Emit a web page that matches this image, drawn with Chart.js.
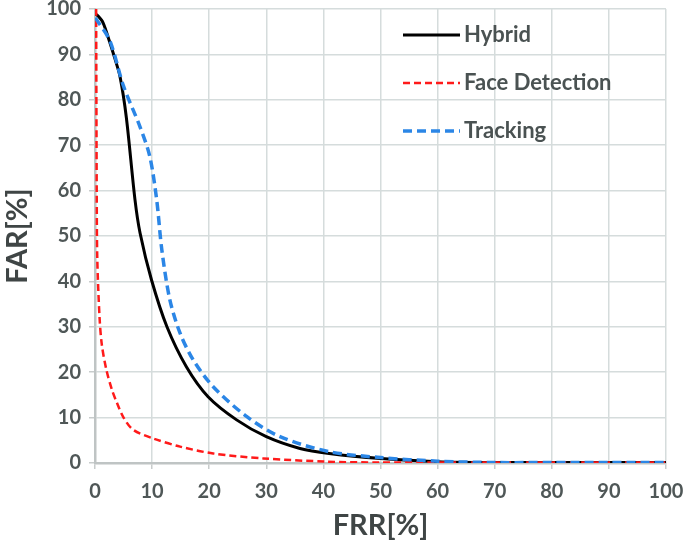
<!DOCTYPE html>
<html>
<head>
<meta charset="utf-8">
<script src="https://cdn.jsdelivr.net/npm/chart.js@4"></script>
<style>
  html, body { margin: 0; padding: 0; background: #fff; }
  #wrap { width: 685px; height: 547px; }
</style>
</head>
<body>
<div id="wrap"><canvas id="rocChart" width="685" height="547"></canvas></div>
<script>
// Curvas FAR vs FRR
const hybridFrr = [0, 0.5, 1.4, 2.5, 3.5, 4.4, 5.5, 7, 7.9, 9.9, 12.6, 16, 19.8, 24.8, 30, 35.9, 41, 50, 60, 70, 80, 90, 100];
const hybridFar = [99, 98.5, 97, 93, 89, 85, 76, 58, 50.6, 40.3, 30, 21.2, 14.6, 9.5, 5.8, 3.2, 2.1, 1.0, 0.3, 0.1, 0.1, 0.1, 0.1];

const faceFrr = [0.2, 0.3, 0.4, 0.8, 1.2, 2, 3, 3.8, 5, 6.7, 10.2, 14.9, 20.7, 29.5, 40.6, 50, 60, 70, 80, 90, 100];
const faceFar = [100, 60, 45, 32, 26, 20.5, 16, 13.4, 10, 7.3, 5.4, 3.6, 2.1, 1.0, 0.3, 0.1, 0.1, 0.1, 0.1, 0.1, 0.1];

const trackFrr = [0, 0.3, 2.6, 5, 7.9, 9.6, 10.8, 11.7, 13.1, 14.9, 17.2, 20.7, 26.6, 32.4, 41, 50, 60, 70, 80, 90, 100];
const trackFar = [98, 97.6, 93, 83, 74, 67.5, 58, 47, 36, 28.6, 22.7, 16.8, 10.2, 5.8, 2.5, 1.2, 0.4, 0.1, 0.1, 0.1, 0.1];

const seriesNames = ['Hybrid', 'Face Detection', 'Tracking'];
const xTitle = 'FRR[%]';
const yTitle = 'FAR[%]';

const fontFamily = "Lato, 'Open Sans', sans-serif";

function toPoints(xs, ys) {
    return xs.map((x, i) => ({ x: x, y: ys[i] }));
}

// Leyenda dibujada dentro del área del gráfico
const insideLegend = {
    id: 'insideLegend',
    afterDraw(chart) {
        const ctx = chart.ctx;
        const items = chart.data.datasets;
        const rows = [35, 83, 131];
        ctx.save();
        items.forEach((ds, i) => {
            const y = rows[i];
            ctx.beginPath();
            ctx.strokeStyle = ds.borderColor;
            ctx.lineWidth = ds.borderWidth;
            ctx.setLineDash(ds.borderDash || []);
            ctx.moveTo(403, y);
            ctx.lineTo(460, y);
            ctx.stroke();
            ctx.setLineDash([]);
            ctx.fillStyle = '#4a5252';
            ctx.font = 'bold 22px ' + fontFamily;
            ctx.textBaseline = 'middle';
            ctx.fillText(ds.label, 464, y);
        });
        ctx.restore();
    }
};

const canvas = document.getElementById('rocChart');
new Chart(canvas.getContext('2d'), {
    type: 'scatter',
    data: {
        datasets: [
            {
                label: seriesNames[0],
                data: toPoints(hybridFrr, hybridFar),
                borderColor: '#000000',
                borderWidth: 3,
                showLine: true,
                pointRadius: 0,
                tension: 0.3,
                order: 2
            },
            {
                label: seriesNames[1],
                data: toPoints(faceFrr, faceFar),
                borderColor: '#ff1a1a',
                borderWidth: 2.5,
                borderDash: [7, 4],
                showLine: true,
                pointRadius: 0,
                tension: 0.3,
                order: 1
            },
            {
                label: seriesNames[2],
                data: toPoints(trackFrr, trackFar),
                borderColor: '#2b86e6',
                borderWidth: 3.5,
                borderDash: [9, 5],
                showLine: true,
                pointRadius: 0,
                tension: 0.3,
                order: 0
            }
        ]
    },
    options: {
        responsive: false,
        animation: false,
        layout: { padding: { top: 9, right: 19, left: 0, bottom: 0 } },
        plugins: {
            legend: { display: false },
            tooltip: { enabled: false }
        },
        scales: {
            x: {
                type: 'linear',
                min: 0,
                max: 100,
                ticks: {
                    stepSize: 10,
                    color: '#4f5757',
                    padding: 11,
                    maxRotation: 0,
                    font: { family: fontFamily, size: 20, weight: 'bold' }
                },
                grid: { color: '#d5dcdc', lineWidth: 1.5, tickLength: 6, tickColor: '#c8cccc' },
                border: { color: '#bfc4c4', width: 2.5 },
                title: {
                    display: true,
                    text: xTitle,
                    color: '#3f4545',
                    padding: { top: 7 },
                    font: { family: fontFamily, size: 29, weight: 'bold' }
                },
                afterFit(scale) {
                    scale.height = 84;
                    scale.paddingLeft = 0;
                    scale.paddingRight = 0;
                }
            },
            y: {
                type: 'linear',
                min: 0,
                max: 100,
                ticks: {
                    stepSize: 10,
                    color: '#4f5757',
                    padding: 8,
                    font: { family: fontFamily, size: 20, weight: 'bold' }
                },
                grid: { color: '#d5dcdc', lineWidth: 1.5, tickLength: 6, tickColor: '#c8cccc' },
                border: { color: '#bfc4c4', width: 2.5 },
                title: {
                    display: true,
                    text: yTitle,
                    color: '#3f4545',
                    padding: { top: 0, bottom: 4 },
                    font: { family: fontFamily, size: 29, weight: 'bold' }
                },
                afterFit(scale) {
                    scale.width = 95;
                    scale.paddingTop = 0;
                    scale.paddingBottom = 0;
                }
            }
        }
    },
    plugins: [insideLegend]
});
</script>
</body>
</html>
